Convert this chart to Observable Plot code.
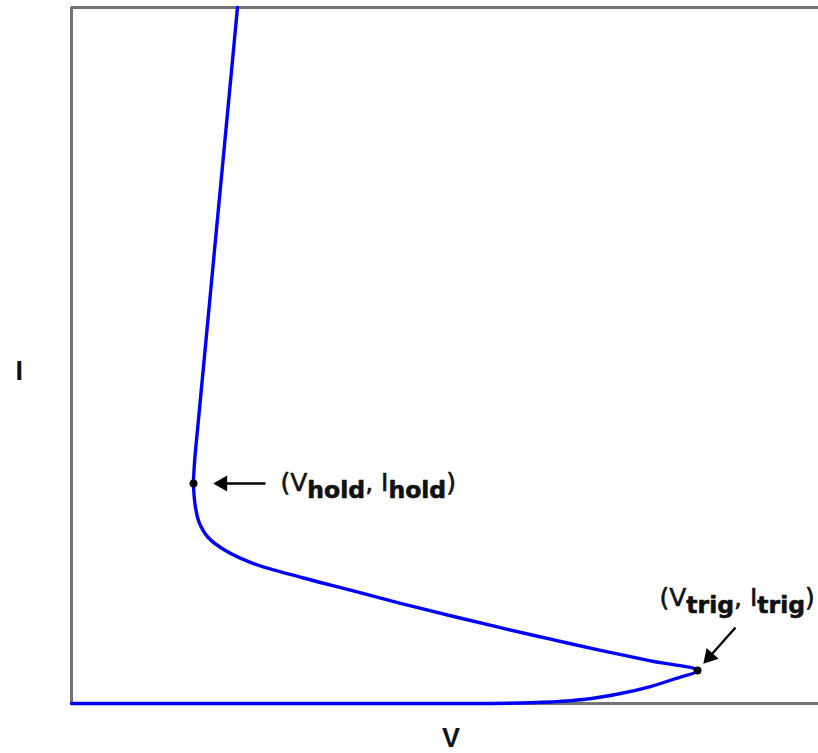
<!DOCTYPE html>
<html>
<head>
<meta charset="utf-8">
<script src="https://cdn.jsdelivr.net/npm/d3@7"></script>
<script src="https://cdn.jsdelivr.net/npm/@observablehq/plot@0.6"></script>
<style>
  html, body { margin: 0; padding: 0; background: #fff; overflow: hidden; }
  #chart svg { display: block; }
</style>
</head>
<body>
<div id="chart"></div>
<script>
// Snapback I–V characteristic (arbitrary units)
// off-state leakage -> trigger point
const offV = [0, 3.07, 5.07, 6.01, 6.41, 6.85, 7.35, 7.75, 8.09, 8.38];
const offI = [0, 0, 0, 0.007, 0.022, 0.057, 0.144, 0.244, 0.359, 0.474];
// snapback region: trigger point -> holding point
const snapV = [7.751, 7.082, 6.412, 5.743, 5.074, 4.404, 3.748, 3.106, 2.436, 2.06, 1.83, 1.71, 1.66];
const snapI = [0.612, 0.764, 0.924, 1.089, 1.261, 1.440, 1.624, 1.803, 2.011, 2.198, 2.385, 2.600, 2.816];
// on-state: holding point upward
const onV = [1.633, 1.640, 1.660, 1.714, 1.794, 1.914, 2.088, 2.222];
const onI = [3.161, 3.348, 3.635, 4.239, 5.144, 6.509, 8.477, 10.0];

// Marked operating points
const pointNames = ["hold", "trig"];
const pointV = [1.633, 8.380];
const pointI = [3.161, 0.474];

// Annotation text anchors (left edge, baseline of the main letters)
const labelV = [2.798, 7.871];
const labelI = [3.060, 1.408];

// Pointer arrows: tail -> tip
const arrowTailV = [2.597, 8.889];
const arrowTailI = [3.161, 1.092];
const arrowTipV = [1.901, 8.461];
const arrowTipI = [3.161, 0.575];

const xDomain = [0, 10];
const yDomain = [0, 10];
const W = 818, H = 753;
const margin = {top: 7, right: -6, bottom: 50, left: 71};
const xRange = [71, 818];

const curveV = [...offV, ...snapV, ...onV];
const curveI = [...offI, ...snapI, ...onI];
const curve = curveV.map((v, i) => ({V: v, I: curveI[i]}));
const points = pointNames.map((n, i) => ({name: n, V: pointV[i], I: pointI[i]}));
const labels = pointNames.map((n, i) => ({name: n, V: labelV[i], I: labelI[i]}));

// Arrowheads: filled triangles set back from the tip, oriented along the shaft
const xs = Plot.scale({x: {domain: xDomain, range: xRange}});
const ys = Plot.scale({y: {domain: yDomain, range: [H - margin.bottom, margin.top]}});
const headLen = 9;
const arrows = pointNames.map((n, i) => {
  const x1 = xs.apply(arrowTailV[i]), y1 = ys.apply(arrowTailI[i]);
  const x2 = xs.apply(arrowTipV[i]), y2 = ys.apply(arrowTipI[i]);
  const len = Math.hypot(x2 - x1, y2 - y1);
  const ux = (x2 - x1) / len, uy = (y2 - y1) / len;
  const cx = x2 - ux * headLen, cy = y2 - uy * headLen;
  const angle = Math.atan2(ux, -uy) * 180 / Math.PI;
  return {
    V1: arrowTailV[i], I1: arrowTailI[i],
    V2: xs.invert(cx), I2: ys.invert(cy),
    rotate: angle
  };
});

const frameColor = "#737373";

const plot = Plot.plot({
  width: W,
  height: H,
  marginTop: margin.top,
  marginRight: margin.right,
  marginBottom: margin.bottom,
  marginLeft: margin.left,
  x: {domain: xDomain, range: xRange, axis: null},
  y: {domain: yDomain, axis: null},
  style: {background: "#fff"},
  marks: [
    Plot.ruleY([yDomain[0], yDomain[1]], {stroke: frameColor, strokeWidth: 3}),
    Plot.ruleX([xDomain[0]], {stroke: frameColor, strokeWidth: 3}),
    Plot.line(curve, {x: "V", y: "I", stroke: "#0000ff", strokeWidth: 3.4, curve: "catmull-rom"}),
    Plot.dot(points, {x: "V", y: "I", r: 4, fill: "#000", stroke: "none"}),
    Plot.link(arrows, {x1: "V1", y1: "I1", x2: "V2", y2: "I2", stroke: "#000", strokeWidth: 2.4}),
    Plot.dot(arrows, {x: "V2", y: "I2", symbol: "triangle", r: 6, rotate: "rotate", fill: "#000", stroke: "none"}),
    Plot.text(labels, {
      x: "V", y: "I", text: d => `(V${d.name}, I${d.name})`,
      textAnchor: "start", lineAnchor: "bottom",
      fontSize: 25, fontFamily: "DejaVu Sans", fill: "#111",
      stroke: "#111", strokeWidth: 0.6
    }),
    Plot.text(["V"], {frameAnchor: "bottom", dx: 3, dy: 43, fontSize: 27, fontWeight: "bold", fontFamily: "Liberation Sans", fill: "#111"}),
    Plot.text(["I"], {frameAnchor: "left", dx: -56, dy: 16, fontSize: 27, fontWeight: "bold", fontFamily: "Liberation Sans", fill: "#111"})
  ]
});

// Typeset the point labels with subscripted names
d3.select(plot).selectAll("text").each(function () {
  const m = /^\(V(\w+), I(\w+)\)$/.exec(this.textContent);
  if (!m) return;
  const t = d3.select(this);
  t.text(null);
  const shift = 7;
  t.append("tspan").text("(V");
  t.append("tspan").attr("dy", shift).attr("font-size", 23.5).attr("font-weight", "bold").text(m[1]);
  t.append("tspan").attr("dy", -shift).text(", I");
  t.append("tspan").attr("dy", shift).attr("font-size", 23.5).attr("font-weight", "bold").text(m[2]);
  t.append("tspan").attr("dy", -shift).text(")");
});

document.getElementById("chart").appendChild(plot);
</script>
</body>
</html>
